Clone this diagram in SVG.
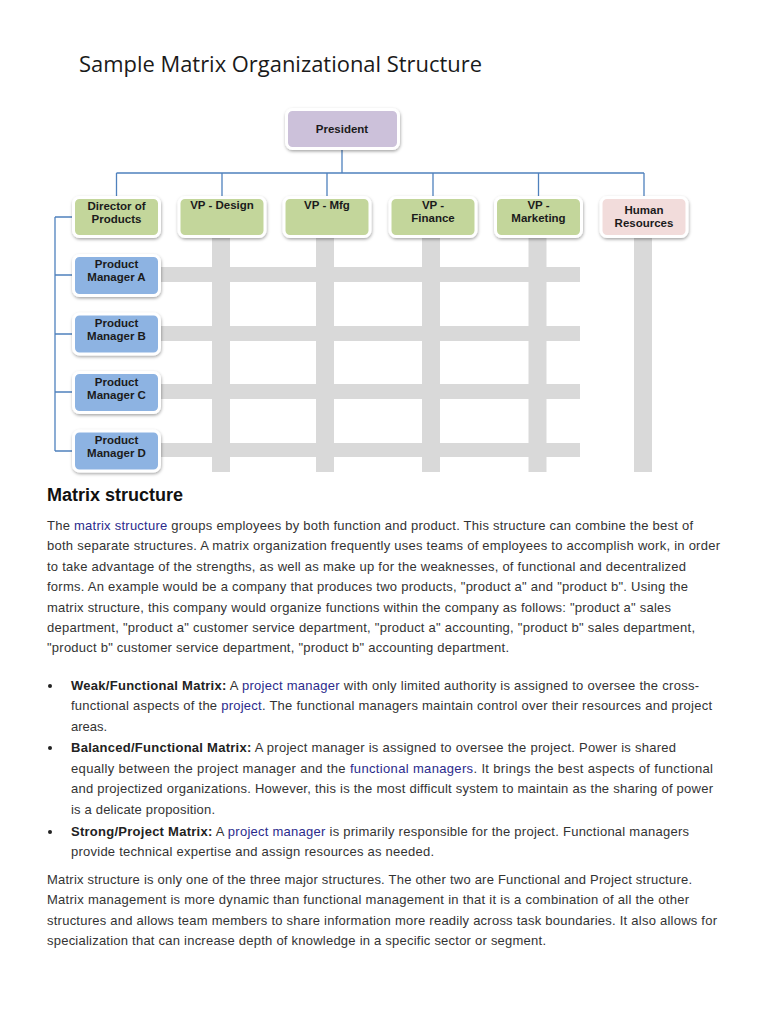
<svg xmlns="http://www.w3.org/2000/svg" width="768" height="1024" viewBox="0 0 768 1024">
<defs>
<filter id="sh" x="-20%" y="-20%" width="140%" height="150%">
<feDropShadow dx="0.5" dy="1.5" stdDeviation="1.5" flood-color="#000" flood-opacity="0.35"/>
</filter>
<style>
.box{stroke:#fff;stroke-width:3;filter:url(#sh)}
.pres{fill:#ccc1da}
.vp{fill:#c3d69b}
.hr{fill:#f2dcdb}
.pm{fill:#8db3e2}
.bl{font-family:"Liberation Sans",Arial,sans-serif;font-weight:bold;font-size:11.5px;fill:#1b1b1b;text-anchor:middle}
.con{stroke:#4f81bd;stroke-width:1.3;fill:none}
.bar{fill:#d9d9d9}
.t{font-family:"Liberation Sans",Arial,sans-serif;font-size:13px;fill:#333}
.a{fill:#2b2b8c}
.b{font-weight:bold;fill:#222}
</style>
</defs>
<rect width="768" height="1024" fill="#fff"/>
<text x="79" y="72" font-family="'Open Sans',sans-serif" font-size="21" fill="#1a1a1a" textLength="403" lengthAdjust="spacingAndGlyphs">Sample Matrix Organizational Structure</text>

<g id="grid">
<rect class="bar" x="212" y="238" width="18" height="234"/>
<rect class="bar" x="316" y="238" width="18" height="234"/>
<rect class="bar" x="422" y="238" width="18" height="234"/>
<rect class="bar" x="528.5" y="238" width="18" height="234"/>
<rect class="bar" x="634" y="238" width="18" height="234"/>
<rect class="bar" x="160" y="267" width="420" height="15"/>
<rect class="bar" x="160" y="326" width="420" height="15"/>
<rect class="bar" x="160" y="384" width="420" height="15"/>
<rect class="bar" x="160" y="443" width="420" height="14"/>
</g>

<g id="connectors">
<path class="con" d="M342 150V173M116.5 173H644M116.5 173V196M222 173V196M327 173V196M433 173V196M538.5 173V196M644 173V196"/>
<path class="con" d="M55 217V451M55 217H72M55 275H72M55 334H72M55 392H72M55 451H72"/>
</g>

<g id="president"><rect class="box pres" x="286.5" y="109.5" width="112" height="39" rx="6"/><text class="bl" x="342" y="133" font-size="12.5">President</text></g>
<g id="director"><rect class="box vp" x="73.5" y="197.5" width="86" height="39" rx="6"/><text class="bl" x="116.5" y="210">Director of</text><text class="bl" x="116.5" y="223" font-size="12">Products</text></g>
<g id="vp-design"><rect class="box vp" x="179" y="197.5" width="86" height="39" rx="6"/><text class="bl" x="222" y="209">VP - Design</text></g>
<g id="vp-mfg"><rect class="box vp" x="284" y="197.5" width="86" height="39" rx="6"/><text class="bl" x="327" y="209">VP - Mfg</text></g>
<g id="vp-finance"><rect class="box vp" x="390" y="197.5" width="86" height="39" rx="6"/><text class="bl" x="433" y="209">VP -</text><text class="bl" x="433" y="222">Finance</text></g>
<g id="vp-marketing"><rect class="box vp" x="495.5" y="197.5" width="86" height="39" rx="6"/><text class="bl" x="538.5" y="209">VP -</text><text class="bl" x="538.5" y="222">Marketing</text></g>
<g id="hr"><rect class="box hr" x="601" y="197.5" width="86" height="39" rx="6"/><text class="bl" x="644" y="214">Human</text><text class="bl" x="644" y="227">Resources</text></g>
<g id="pm-a"><rect class="box pm" x="73.5" y="255.5" width="86" height="40" rx="6"/><text class="bl" x="116.5" y="268">Product</text><text class="bl" x="116.5" y="281">Manager A</text></g>
<g id="pm-b"><rect class="box pm" x="73.5" y="314" width="86" height="40" rx="6"/><text class="bl" x="116.5" y="327">Product</text><text class="bl" x="116.5" y="340">Manager B</text></g>
<g id="pm-c"><rect class="box pm" x="73.5" y="372.5" width="86" height="40" rx="6"/><text class="bl" x="116.5" y="385.5">Product</text><text class="bl" x="116.5" y="398.5">Manager C</text></g>
<g id="pm-d"><rect class="box pm" x="73.5" y="431" width="86" height="40" rx="6"/><text class="bl" x="116.5" y="444">Product</text><text class="bl" x="116.5" y="457">Manager D</text></g>

<text x="47" y="500.5" font-family="'Liberation Sans',Arial,sans-serif" font-weight="bold" font-size="18" fill="#111">Matrix structure</text>

<g class="t">
<text x="47" y="529.5" textLength="646" lengthAdjust="spacing">The <tspan class="a">matrix structure</tspan> groups employees by both function and product. This structure can combine the best of</text>
<text x="47" y="550" textLength="673" lengthAdjust="spacing">both separate structures. A matrix organization frequently uses teams of employees to accomplish work, in order</text>
<text x="47" y="570.5" textLength="639" lengthAdjust="spacing">to take advantage of the strengths, as well as make up for the weaknesses, of functional and decentralized</text>
<text x="47" y="591" textLength="641" lengthAdjust="spacing">forms. An example would be a company that produces two products, "product a" and "product b". Using the</text>
<text x="47" y="611.5" textLength="624" lengthAdjust="spacing">matrix structure, this company would organize functions within the company as follows: "product a" sales</text>
<text x="47" y="631.5" textLength="648" lengthAdjust="spacing">department, "product a" customer service department, "product a" accounting, "product b" sales department,</text>
<text x="47" y="652" textLength="462" lengthAdjust="spacing">"product b" customer service department, "product b" accounting department.</text>

<circle cx="50" cy="686" r="2" fill="#222"/>
<circle cx="50" cy="748" r="2" fill="#222"/>
<circle cx="50" cy="832" r="2" fill="#222"/>
<text x="71" y="689.5" textLength="628" lengthAdjust="spacing"><tspan class="b">Weak/Functional Matrix:</tspan> A <tspan class="a">project manager</tspan> with only limited authority is assigned to oversee the cross-</text>
<text x="71" y="710" textLength="641" lengthAdjust="spacing">functional aspects of the <tspan class="a">project</tspan>. The functional managers maintain control over their resources and project</text>
<text x="71" y="730.5">areas.</text>
<text x="71" y="751.5" textLength="605" lengthAdjust="spacing"><tspan class="b">Balanced/Functional Matrix:</tspan> A project manager is assigned to oversee the project. Power is shared</text>
<text x="71" y="772.5" textLength="642" lengthAdjust="spacing">equally between the project manager and the <tspan class="a">functional managers</tspan>. It brings the best aspects of functional</text>
<text x="71" y="793" textLength="642" lengthAdjust="spacing">and projectized organizations. However, this is the most difficult system to maintain as the sharing of power</text>
<text x="71" y="813.5" textLength="144" lengthAdjust="spacing">is a delicate proposition.</text>
<text x="71" y="835.5" textLength="618" lengthAdjust="spacing"><tspan class="b">Strong/Project Matrix:</tspan> A <tspan class="a">project manager</tspan> is primarily responsible for the project. Functional managers</text>
<text x="71" y="856" textLength="363" lengthAdjust="spacing">provide technical expertise and assign resources as needed.</text>

<text x="47" y="883.5" textLength="645" lengthAdjust="spacing">Matrix structure is only one of the three major structures. The other two are Functional and Project structure.</text>
<text x="47" y="904" textLength="642" lengthAdjust="spacing">Matrix management is more dynamic than functional management in that it is a combination of all the other</text>
<text x="47" y="924.5" textLength="670" lengthAdjust="spacing">structures and allows team members to share information more readily across task boundaries. It also allows for</text>
<text x="47" y="945" textLength="499" lengthAdjust="spacing">specialization that can increase depth of knowledge in a specific sector or segment.</text>
</g>
</svg>
